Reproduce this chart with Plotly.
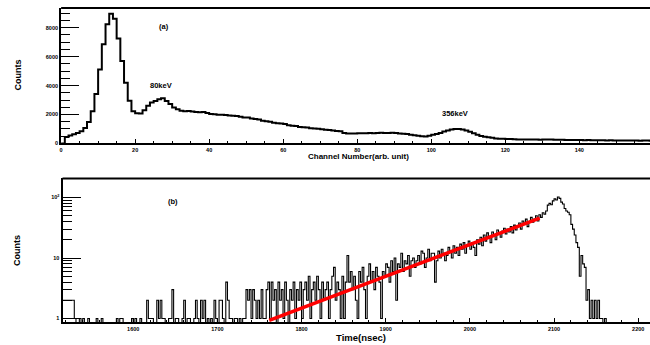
import numpy as np
import plotly.graph_objects as go

# ---------------- data ----------------
# (a) channel spectrum, 1-channel bins starting at channel 0
channel_counts = [
    0, 440, 550, 640, 730, 850, 1070, 1480, 2230, 3420,
    5120, 6850, 8250, 8960, 8620, 7250, 5700, 4200, 2960, 2220,
    2080, 2070, 2300, 2600, 2830, 2940, 3060, 3120, 2940, 2720,
    2490, 2370, 2260, 2230, 2250, 2200, 2180, 2150, 2170, 2100,
    2030, 2020, 1990, 1980, 1970, 1930, 1910, 1900, 1840, 1800,
    1790, 1720, 1690, 1660, 1570, 1540, 1500, 1430, 1400, 1380,
    1350, 1260, 1230, 1200, 1130, 1120, 1100, 1050, 1030, 1010,
    980, 950, 930, 900, 860, 840, 720, 690, 680, 690,
    700, 710, 700, 720, 710, 730, 740, 720, 730, 740,
    720, 680, 670, 650, 600, 560, 540, 500, 480, 530,
    600, 660, 730, 820, 900, 960, 1000, 1000, 960, 890,
    800, 700, 600, 520, 460, 430, 400, 350, 330, 320,
    310, 300, 290, 280, 275, 270, 280, 265, 270, 260,
    275, 280, 265, 260, 255, 250, 240, 245, 230, 235,
    230, 225, 230, 220, 225, 215, 220, 210, 215, 205,
    210, 200, 205, 195, 200, 195, 190, 200, 195, 190,
]
channel_start = 0
channel_width = 1

# (b) time spectrum, 2 ns bins starting at 1516 ns
time_start = 1516
time_width = 2
time_counts = [
    2, 2, 2, 2, 2, 2, 2, 1, 0, 0,
    1, 0, 1, 0, 0, 1, 0, 0, 0, 0,
    1, 0, 0, 1, 0, 0, 0, 0, 0, 0,
    0, 0, 1, 0, 1, 1, 0, 0, 0, 0,
    0, 1, 0, 1, 0, 0, 1, 0, 0, 0,
    2, 1, 1, 1, 0, 0, 2, 1, 2, 1,
    1, 0, 0, 1, 1, 3, 0, 1, 1, 0,
    0, 1, 2, 0, 1, 1, 0, 0, 1, 2,
    1, 0, 2, 1, 2, 0, 1, 0, 1, 0,
    2, 1, 0, 2, 2, 1, 0, 4, 2, 1,
    1, 0, 1, 1, 0, 1, 0, 1, 1, 3,
    2, 3, 1, 3, 2, 1, 2, 1, 3, 1,
    1, 3, 4, 1, 4, 2, 3, 0, 4, 2,
    3, 1, 4, 2, 0, 3, 2, 4, 1, 3,
    2, 4, 1, 3, 4, 2, 5, 1, 3, 4,
    2, 5, 3, 1, 4, 2, 3, 4, 1, 3,
    5, 7, 2, 4, 3, 1, 5, 1, 4, 11,
    4, 6, 3, 5, 2, 1, 6, 4, 7, 3,
    1, 5, 8, 4, 6, 3, 7, 5, 4, 1,
    6, 5, 8, 7, 4, 9, 6, 10, 2, 8,
    7, 12, 6, 9, 8, 11, 5, 9, 10, 7,
    9, 11, 8, 13, 12, 7, 10, 14, 9, 12,
    12, 4, 9, 13, 10, 14, 12, 9, 11, 15,
    13, 10, 16, 12, 15, 11, 17, 14, 18, 12,
    16, 19, 14, 18, 15, 11, 20, 17, 22, 16,
    24, 19, 26, 21, 18, 27, 23, 20, 29, 25,
    22, 28, 31, 25, 30, 27, 33, 26, 35, 29,
    34, 38, 30, 41, 36, 44, 33, 40, 47, 39,
    44, 50, 41, 52, 47, 56, 53, 60, 75, 80,
    76, 88, 95, 91, 102, 97, 84, 78, 66, 60,
    57, 52, 36, 30, 24, 18, 15, 5, 11, 8,
    7, 2, 3, 1, 2, 1, 2, 1, 2, 1,
    1, 0, 1, 0, 0, 0, 0, 0, 0, 0,
    0, 0, 0, 0, 0, 0, 0, 0, 0, 0,
    0, 0, 0, 0, 0, 0, 0, 0, 0,
]

# exponential fit (straight on log scale)
fit_time = [1761.6, 2082.9]
fit_counts = [0.93, 45.8]

channel_ticks = [0, 20, 40, 60, 80, 100, 120, 140, 160]
count_ticks = [0, 2000, 4000, 6000, 8000]
time_ticks = [1600, 1700, 1800, 1900, 2000, 2100, 2200]
log_ticks = [1, 10, 100]
log_ticktext = ["1", "10", "10<sup>2</sup>"]

# ---------------- helpers ----------------
W, H = 650, 345
def PX(x):
    return x / W
def PY(y):
    return 1 - y / H

FONT = "Liberation Sans, Arial, Helvetica, sans-serif"

c1 = np.array(channel_counts, dtype=float)
e1 = channel_start + channel_width * np.arange(len(c1) + 1)
y1 = np.append(c1, c1[-1])

c2 = np.array(time_counts, dtype=float)
e2 = time_start + time_width * np.arange(len(c2) + 1)
c2p = np.where(c2 > 0, c2, 0.5)
y2 = np.append(c2p, c2p[-1])

fig = go.Figure()
fig.add_trace(go.Scatter(x=e1, y=y1, mode="lines", line=dict(shape="hv", color="black", width=2),
                         xaxis="x", yaxis="y", showlegend=False, hoverinfo="skip"))
fig.add_trace(go.Scatter(x=e2, y=y2, mode="lines", line=dict(shape="hv", color="black", width=1.1),
                         xaxis="x2", yaxis="y2", showlegend=False, hoverinfo="skip"))
fig.add_trace(go.Scatter(x=fit_time, y=fit_counts, mode="lines", line=dict(color="#ff0000", width=3.5),
                         xaxis="x2", yaxis="y2", showlegend=False, hoverinfo="skip"))

tickfont = dict(family=FONT, size=5.5, color="black", weight="bold")
common = dict(showgrid=False, zeroline=False, showline=True, linecolor="black", linewidth=2,
              ticks="inside", tickcolor="black", tickwidth=1, tickfont=tickfont, mirror=False)

top_dom_y = [PY(144.7), PY(8)]
bot_dom_y = [PY(325.3), PY(180)]

fig.update_layout(
    width=W, height=H,
    margin=dict(l=0, r=0, t=0, b=0),
    paper_bgcolor="white", plot_bgcolor="white",
    xaxis=dict(domain=[PX(59.3), 1], range=[0, 159.1], anchor="y", tickmode="array",
               tickvals=channel_ticks, ticklen=4,
               minor=dict(ticks="inside", dtick=5, tick0=0, ticklen=2, tickcolor="black", showgrid=False),
               **common),
    yaxis=dict(domain=top_dom_y, range=[0, 9370], anchor="x", tickmode="array",
               tickvals=count_ticks, ticklen=18,
               minor=dict(ticks="inside", dtick=500, tick0=0, ticklen=9, tickcolor="black", showgrid=False),
               **common),
    xaxis2=dict(domain=[PX(60.7), 1], range=[1516, 2214], anchor="y2", tickmode="array",
                tickvals=time_ticks, ticklen=4.5,
                minor=dict(ticks="inside", dtick=20, tick0=1500, ticklen=2, tickcolor="black", showgrid=False),
                **common),
    yaxis2=dict(domain=bot_dom_y, type="log", range=[np.log10(0.86), np.log10(207)], anchor="x2",
                tickmode="array", tickvals=log_ticks, ticktext=log_ticktext, ticklen=18,
                minor=dict(ticks="inside", tickmode="array",
                           tickvals=[2, 3, 4, 5, 6, 7, 8, 9, 20, 30, 40, 50, 60, 70, 80, 90, 200],
                           ticklen=9, tickcolor="black", showgrid=False),
                **common),
)

# top frame borders
fig.add_shape(type="line", xref="paper", yref="paper", x0=PX(59.3), x1=1, y0=PY(8), y1=PY(8),
              line=dict(color="black", width=2))
fig.add_shape(type="line", xref="paper", yref="paper", x0=PX(60.7), x1=1, y0=PY(180), y1=PY(180),
              line=dict(color="black", width=2))

def ann(text, x, y, size, angle=0):
    fig.add_annotation(text=text, x=PX(x), y=PY(y), xref="paper", yref="paper",
                       xanchor="center", yanchor="middle", showarrow=False, textangle=angle,
                       font=dict(family=FONT, size=size, color="black", weight="bold"))

ann("Counts", 15.7, 75.5, 9, -90)
ann("Counts", 15.7, 252.5, 9, -90)
ann("Channel Number(arb. unit)", 358, 157.8, 8)
ann("Time(nsec)", 360, 340, 9.5)
ann("(a)", 163, 26.7, 7.5)
ann("80keV", 159.5, 86, 7.5)
ann("356keV", 454, 115, 7.5)
ann("(b)", 172, 203.3, 7.5)

# the page's default body margin would shift the figure; remove it
fig.write_html("out.html", config={"displayModeBar": False},
               post_script="document.body.style.margin='0px';document.body.style.overflow='hidden';")
